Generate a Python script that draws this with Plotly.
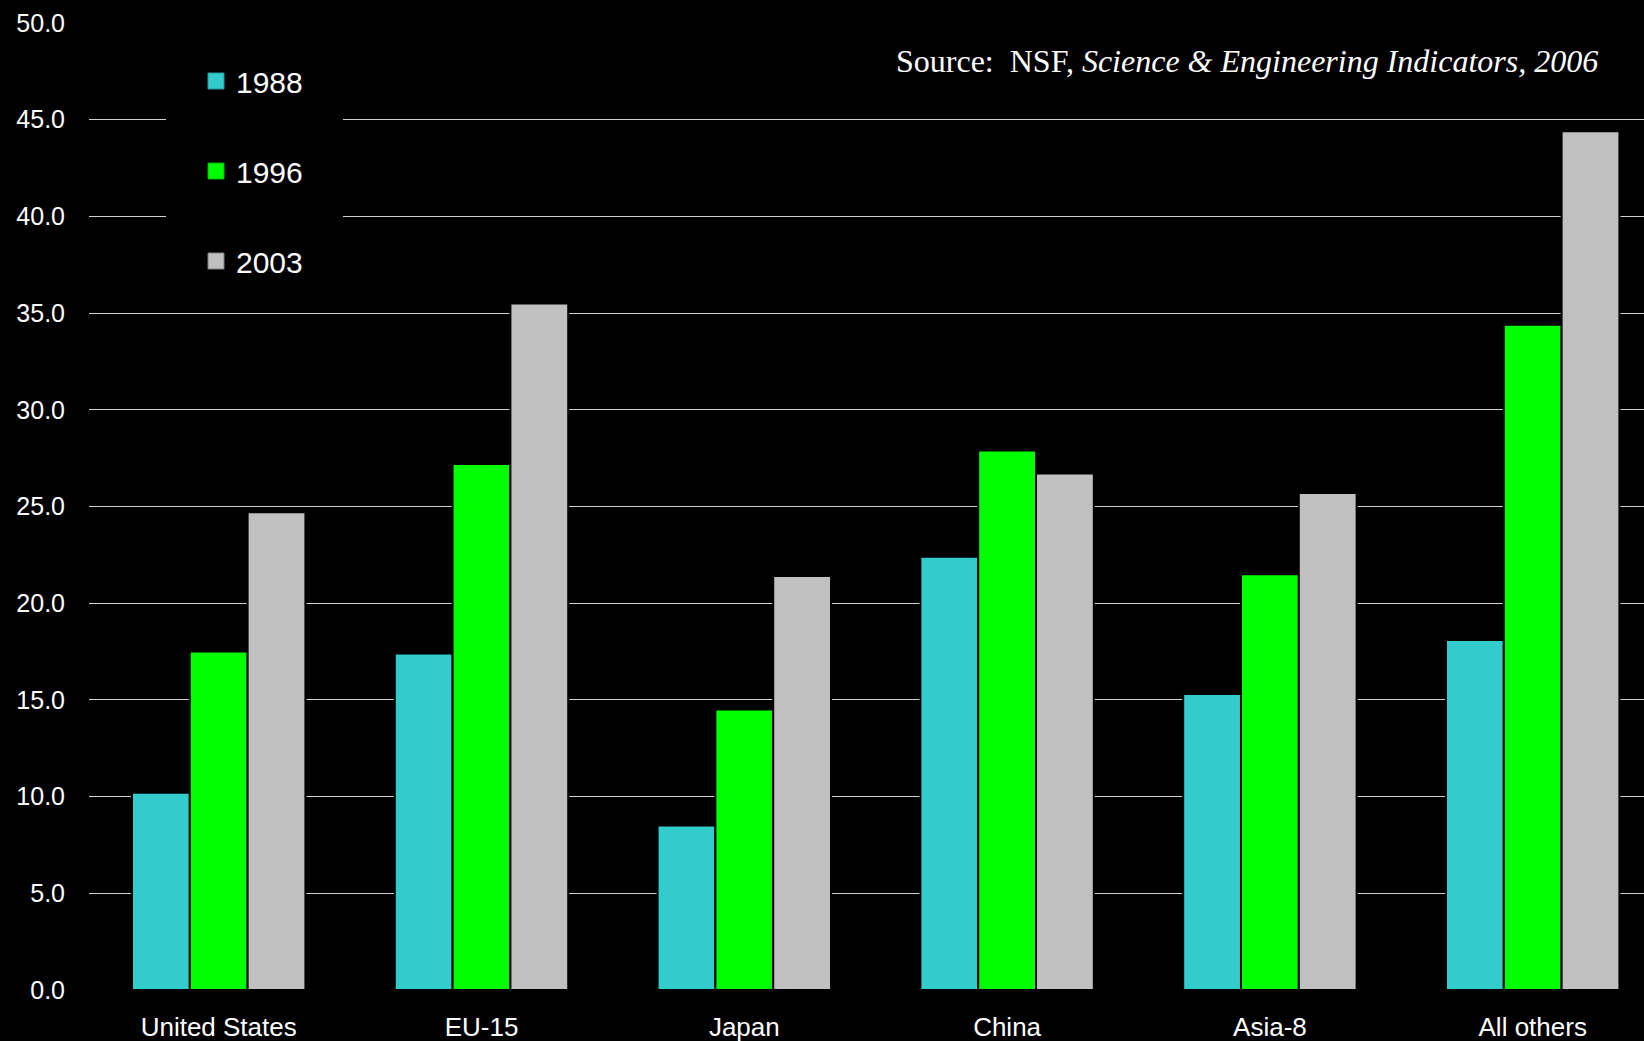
import plotly.graph_objects as go

categories = ["United States", "EU-15", "Japan", "China", "Asia-8", "All others"]
years = ["1988", "1996", "2003"]
values_1988 = [10.2, 17.4, 8.5, 22.4, 15.3, 18.1]
values_1996 = [17.5, 27.2, 14.5, 27.9, 21.5, 34.4]
values_2003 = [24.7, 35.5, 21.4, 26.7, 25.7, 44.4]
y_tick_values = [0, 5, 10, 15, 20, 25, 30, 35, 40, 45, 50]
grid_values = [5, 10, 15, 20, 25, 30, 35, 40, 45]
source_text = "Source:&nbsp; NSF, <i>Science &amp; Engineering Indicators, 2006</i>"

colors = ["#33CCCC", "#00FF00", "#C0C0C0"]
edge_colors = ["#269999", "#00B000", "#808080"]
series = [values_1988, values_1996, values_2003]

W, H = 1644, 1041
ML, MR, MT, MB = 89, 0, 23, 51
plot_w = W - ML - MR
cat_w = 262.8
x_shift = 1.7 / cat_w
x_left = -0.5 + x_shift
x_right = plot_w / cat_w + x_left

fig = go.Figure()
for name, vals, c in zip(years, series, colors):
    fig.add_trace(go.Bar(
        x=categories, y=vals, name=name, showlegend=False,
        marker=dict(color=c, line=dict(color="#000000", width=2)),
    ))
for name, c, ec in zip(years, colors, edge_colors):
    fig.add_trace(go.Scatter(
        x=[None], y=[None], mode="markers", name=name, legendgroup=name,
        yaxis="y2",
        marker=dict(symbol="square", size=16, color=c, line=dict(color=ec, width=1)),
    ))

def px_to_paper_x(px):
    return (px - ML) / plot_w

plot_h = H - MT - MB
def px_to_paper_y(py):
    return (H - MB - py) / plot_h

fig.add_shape(type="rect", xref="paper", yref="paper",
              x0=px_to_paper_x(166), x1=px_to_paper_x(343),
              y0=px_to_paper_y(290), y1=px_to_paper_y(40),
              fillcolor="#000000", line=dict(width=0), layer="above")

fig.add_annotation(
    text=source_text, xref="paper", yref="paper",
    x=px_to_paper_x(1600), y=px_to_paper_y(61),
    xanchor="right", yanchor="middle", showarrow=False,
    font=dict(family="Liberation Serif, Times New Roman, serif", size=32, color="#FFFFFF"),
)

fig.update_layout(
    width=W, height=H,
    margin=dict(l=ML, r=MR, t=MT, b=MB, pad=0),
    paper_bgcolor="#000000", plot_bgcolor="#000000",
    barmode="group", bargap=0.34, bargroupgap=0,
    font=dict(family="Liberation Sans, Arial, sans-serif", color="#FFFFFF"),
    showlegend=True,
    legend=dict(
        x=px_to_paper_x(196), y=px_to_paper_y(55), xanchor="left", yanchor="top",
        bgcolor="#000000", borderwidth=0,
        font=dict(family="Liberation Sans, Arial, sans-serif", size=30, color="#FFFFFF"),
        traceorder="grouped", tracegroupgap=48, itemsizing="trace",
    ),
    xaxis=dict(
        type="category", range=[x_left, x_right], showgrid=False, zeroline=False,
        showline=False, ticks="outside", ticklen=14, tickcolor="rgba(0,0,0,0)",
        tickfont=dict(size=26, color="#FFFFFF"),
    ),
    yaxis=dict(
        range=[0, 50], tickvals=grid_values, showticklabels=False,
        showgrid=True, gridcolor="#D0D0D0", gridwidth=1, zeroline=False, showline=False,
    ),
    yaxis2=dict(
        range=[0, 50], overlaying="y", side="left", tickvals=y_tick_values,
        tickformat=".1f", showgrid=False, zeroline=False, showline=False,
        ticks="outside", ticklen=18, tickcolor="rgba(0,0,0,0)",
        tickfont=dict(size=25, color="#FFFFFF"),
    ),
)

fig.write_html("out.html", config={"displayModeBar": False},
               post_script="document.body.style.margin='0';document.body.style.overflow='hidden';")
